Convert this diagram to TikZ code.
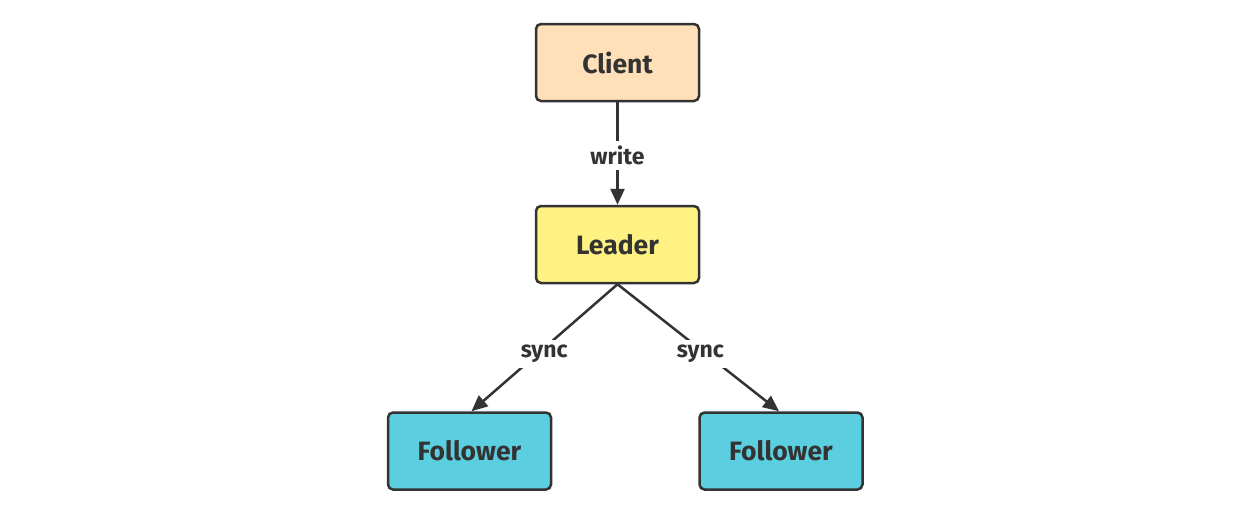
\documentclass[tikz,border=0pt]{standalone}
\usepackage{fontspec}
\setmainfont{Fira Sans}
\usetikzlibrary{arrows.meta}
\definecolor{edgec}{HTML}{333333}
\definecolor{clientc}{HTML}{FFE0B8}
\definecolor{leaderc}{HTML}{FFF182}
\definecolor{followc}{HTML}{5BCFDF}
\tikzset{
  box/.style={draw=edgec, line width=2.5pt, rounded corners=5pt, minimum width=163pt, minimum height=77pt, inner sep=0pt, font=\fontsize{26.5}{30}\selectfont\bfseries, text=edgec},
  conn/.style={draw=edgec, line width=2.5pt, -{Triangle[length=16pt,width=14pt]}},
  lbl/.style={fill=white, font=\fontsize{23}{26}\selectfont\bfseries, text=edgec, inner sep=5pt}
}
\begin{document}
\begin{tikzpicture}[x=1pt,y=-1pt]
\useasboundingbox (0,0) rectangle (1244,525);
\node[box, fill=clientc] (client) at (617.5,62.5) {Client};
\node[box, fill=leaderc] (leader) at (617.5,244.5) {Leader};
\node[box, fill=followc] (f1) at (469.5,451) {Follower};
\node[box, fill=followc] (f2) at (781,451) {Follower};
\draw[conn] (client) -- node[lbl, pos=0.52] {write} (leader);
\draw[conn] (leader.south) -- node[lbl, pos=0.55, xshift=7pt] {sync} ([xshift=2pt]f1.north);
\draw[conn] (leader.south) -- node[lbl, pos=0.55, xshift=-6pt] {sync} ([xshift=-2pt]f2.north);
\end{tikzpicture}
\end{document}
